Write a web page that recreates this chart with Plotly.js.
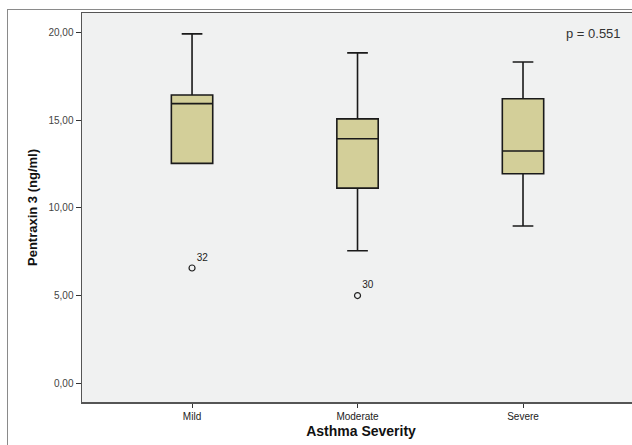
<!DOCTYPE html>
<html>
<head>
<meta charset="utf-8">
<script src="https://cdn.plot.ly/plotly-3.0.1.min.js"></script>
<style>
  html, body { margin: 0; padding: 0; background: #ffffff; overflow: hidden; }
  #wrap { position: relative; width: 632px; height: 445px; overflow: hidden; }
  #chart { width: 640px; height: 445px; }
  #frame { position: absolute; left: 7px; top: 9px; width: 700px; height: 500px;
           border-left: 1px solid #8a8a8a; border-top: 1px solid #8a8a8a; pointer-events: none; }
</style>
</head>
<body>
<div id="wrap">
  <div id="chart"></div>
  <div id="frame"></div>
</div>
<script>
// Data
const categories = ["Mild", "Moderate", "Severe"];
const lowerWhisker = [12.54, 7.56, 8.97];
const q1Values = [12.54, 11.13, 11.95];
const medianValues = [15.94, 13.94, 13.24];
const q3Values = [16.43, 15.07, 16.22];
const upperWhisker = [19.91, 18.83, 18.31];

const outlierCategories = ["Mild", "Moderate"];
const outlierValues = [6.58, 5.01];
const outlierLabels = ["32", "30"];

const yTickVals = [0, 5, 10, 15, 20];
const yTickText = ["0,00", "5,00", "10,00", "15,00", "20,00"];
const pValueText = "p = 0.551";

const boxTrace = {
  type: "box",
  x: categories,
  q1: q1Values,
  median: medianValues,
  q3: q3Values,
  lowerfence: lowerWhisker,
  upperfence: upperWhisker,
  width: 0.25,
  whiskerwidth: 0.5,
  fillcolor: "#d3cf99",
  line: { color: "#1a1a1a", width: 1.6 },
  boxpoints: false,
  hoverinfo: "skip",
  showlegend: false
};

const outlierTrace = {
  type: "scatter",
  mode: "markers+text",
  x: outlierCategories,
  y: outlierValues,
  text: outlierLabels,
  textposition: "top right",
  textfont: { family: "Arial, Liberation Sans, sans-serif", size: 10, color: "#222" },
  marker: { symbol: "circle-open", size: 6, color: "#222", line: { width: 1.2, color: "#222" } },
  showlegend: false,
  hoverinfo: "skip"
};

const layout = {
  width: 640,
  height: 445,
  margin: { l: 82, r: 0, t: 13, b: 43, pad: 0 },
  paper_bgcolor: "#ffffff",
  plot_bgcolor: "#f0f1f1",
  font: { family: "Arial, Liberation Sans, sans-serif", color: "#222" },
  showlegend: false,
  xaxis: {
    type: "category",
    range: [-0.665, 2.707],
    showgrid: false,
    zeroline: false,
    showline: true,
    linecolor: "#555",
    linewidth: 1.5,
    mirror: true,
    ticks: "outside",
    ticklen: 4,
    tickcolor: "#333",
    tickfont: { size: 10, color: "#222" },
    title: { text: "Asthma Severity", font: { size: 14, color: "#111", weight: "bold" }, standoff: 5 }
  },
  yaxis: {
    range: [-1.05, 21.1],
    tickvals: yTickVals,
    ticktext: yTickText,
    showgrid: false,
    zeroline: false,
    showline: true,
    linecolor: "#555",
    linewidth: 1.5,
    mirror: true,
    ticks: "outside",
    ticklen: 5,
    tickcolor: "#333",
    tickfont: { size: 10, color: "#444" },
    title: { text: "Pentraxin 3 (ng/ml)", font: { size: 13, color: "#111", weight: "bold" }, standoff: 8 }
  },
  annotations: [{
    xref: "paper", yref: "paper",
    x: 0.97, y: 0.948,
    xanchor: "right", yanchor: "middle",
    text: pValueText,
    showarrow: false,
    font: { size: 13, color: "#333" }
  }]
};

Plotly.newPlot("chart", [boxTrace, outlierTrace], layout, { staticPlot: true, displayModeBar: false });
</script>
</body>
</html>
